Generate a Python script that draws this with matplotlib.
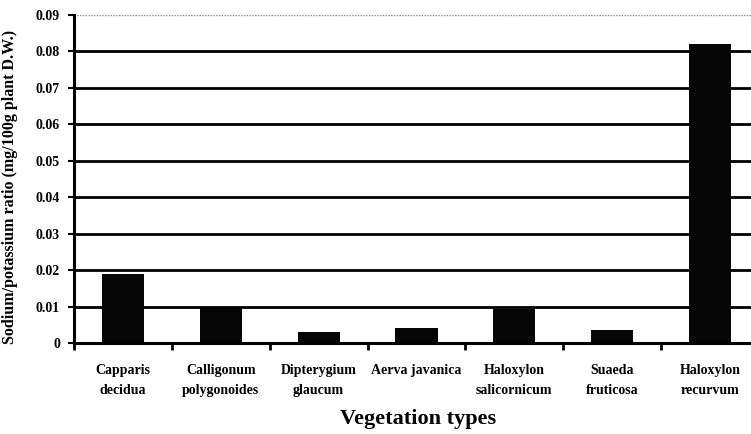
import matplotlib
matplotlib.use("Agg")
import matplotlib.pyplot as plt
import numpy as np

categories = ["Capparis\ndecidua", "Calligonum\npolygonoides", "Dipterygium\nglaucum",
              "Aerva javanica", "Haloxylon\nsalicornicum", "Suaeda\nfruticosa",
              "Haloxylon\nrecurvum"]
values = [0.019, 0.0097, 0.0029, 0.0041, 0.0093, 0.0035, 0.082]
yticks = [0, 0.01, 0.02, 0.03, 0.04, 0.05, 0.06, 0.07, 0.08, 0.09]
ytick_labels = ["0", "0.01", "0.02", "0.03", "0.04", "0.05", "0.06", "0.07", "0.08", "0.09"]

plt.rcParams['font.family'] = ['Liberation Serif', 'DejaVu Serif']
plt.rcParams['font.weight'] = 'bold'

fig = plt.figure(figsize=(7.51, 4.34), dpi=100)
ax = fig.add_axes([74/751, 1-343/434, (759-74)/751, (343-15)/434])

x = np.arange(len(categories))
ax.set_axisbelow(True)
for yv in yticks[1:-1]:
    ax.axhline(yv, color='black', lw=2.0, zorder=0)
ax.axhline(0.09, color='#888888', lw=1.0, ls=(0, (1, 1)), zorder=0)

ax.bar(x, values, width=0.43, color='#050505', zorder=2)

ax.set_xlim(-0.5, len(categories) - 0.5)
ax.set_ylim(0, 0.09)
ax.set_yticks(yticks)
ax.set_yticklabels(ytick_labels, fontsize=10, fontweight='bold')
ax.set_xticks(x)
ax.set_xticklabels(categories, fontsize=10, fontweight='bold', linespacing=1.75)
ax.tick_params(axis='x', which='major', length=0, pad=15)
ax.set_xticks(np.arange(len(categories)) - 0.5, minor=True)
ax.tick_params(axis='x', which='minor', length=5, width=2, direction='out')
ax.tick_params(axis='y', length=4, width=1.5, pad=6)

for s in ['top', 'right']:
    ax.spines[s].set_visible(False)
ax.spines['left'].set_linewidth(2.2)
ax.spines['bottom'].set_linewidth(2.2)

ax.set_ylabel("Sodium/potassium ratio (mg/100g plant D.W.)", fontsize=11.5, fontweight='bold')
ax.yaxis.set_label_coords(-(74-18)/685, 0.476)
fig.text(418/751, 1-419/434, "Vegetation types", fontsize=16, fontweight='bold', ha='center', va='center')

fig.savefig("out.png", dpi=100)
